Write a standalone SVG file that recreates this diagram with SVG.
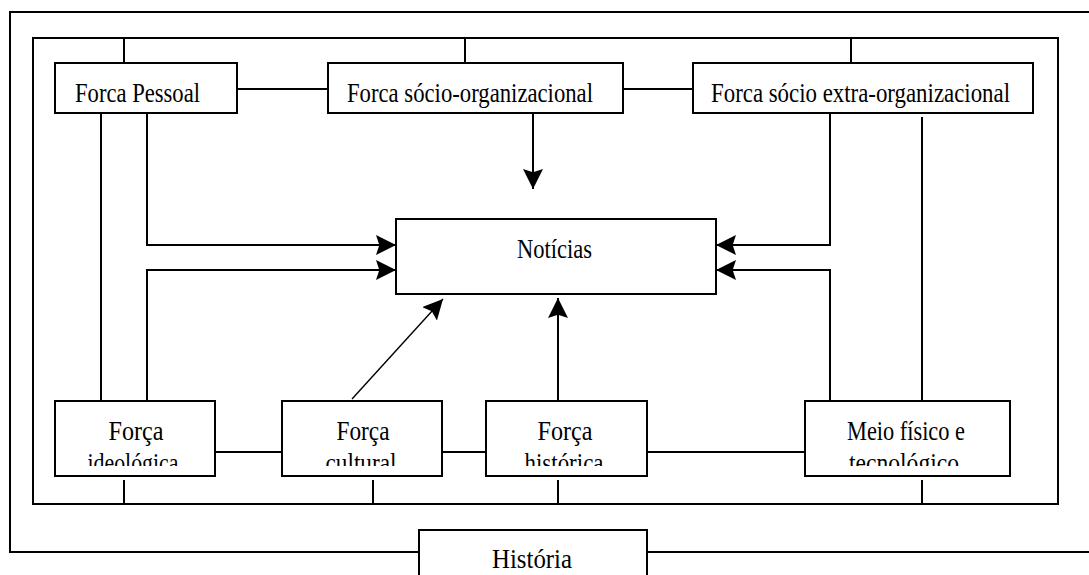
<svg xmlns="http://www.w3.org/2000/svg" width="1089" height="575" viewBox="0 0 1089 575">
<style>
  .box { fill: #fff; stroke: #000; stroke-width: 2; }
  .ln { fill: none; stroke: #000; stroke-width: 2; }
  .thin { fill: none; stroke: #000; stroke-width: 1.4; }
  text { font-family: "Liberation Serif", "Times New Roman", serif; font-size: 28px; fill: #000; }
  .c { text-anchor: middle; }
</style>
<defs>
  <marker id="arr" markerUnits="userSpaceOnUse" markerWidth="20" markerHeight="20" viewBox="0 0 18 18" refX="18" refY="9" orient="auto">
    <path d="M0,0 L18,9 L0,18 L3,9 Z" fill="#000"/>
  </marker>
  <clipPath id="cut" clipPathUnits="userSpaceOnUse">
    <rect x="0" y="0" width="1089" height="466"/>
  </clipPath>
</defs>
<rect width="1089" height="575" fill="#fff"/>

<g id="frames">
  <path class="ln" d="M419,552 H10 V12 H1095"/>
  <path class="ln" d="M647,552 H1095"/>
  <rect class="ln" x="33" y="38" width="1025" height="466"/>
</g>

<g id="connectors">
  <path class="ln" d="M124,38 V63"/>
  <path class="ln" d="M465,38 V63"/>
  <path class="ln" d="M851,38 V63"/>
  <path class="ln" d="M237,89 H328"/>
  <path class="ln" d="M623,89 H693"/>
  <path class="ln" d="M101,113 V401"/>
  <path class="ln" d="M147,113 V245 H396" marker-end="url(#arr)"/>
  <path class="ln" d="M147,401 V270 H396" marker-end="url(#arr)"/>
  <path class="ln" d="M922,117 V401"/>
  <path class="ln" d="M830,113 V245 H716" marker-end="url(#arr)"/>
  <path class="ln" d="M830,401 V270 H716" marker-end="url(#arr)"/>
  <path class="ln" d="M533,113 V189" marker-end="url(#arr)"/>
  <path class="thin" d="M352,399 L443,299" marker-end="url(#arr)"/>
  <path class="ln" d="M558,401 V298" marker-end="url(#arr)"/>
  <path class="ln" d="M215,452 H282"/>
  <path class="ln" d="M442,452 H486"/>
  <path class="ln" d="M647,452 H805"/>
  <path class="ln" d="M124,480 V504"/>
  <path class="ln" d="M373,480 V504"/>
  <path class="ln" d="M558,480 V504"/>
  <path class="ln" d="M922,480 V504"/>
</g>

<g id="forca-pessoal">
  <rect class="box" x="55" y="63" width="182" height="50"/>
  <text x="75" y="102" textLength="125" lengthAdjust="spacingAndGlyphs">Forca Pessoal</text>
</g>
<g id="forca-socio-organizacional">
  <rect class="box" x="328" y="63" width="295" height="50"/>
  <text x="347" y="102" textLength="246" lengthAdjust="spacingAndGlyphs">Forca sócio-organizacional</text>
</g>
<g id="forca-socio-extra">
  <rect class="box" x="693" y="63" width="340" height="50"/>
  <text x="711" y="102" textLength="299" lengthAdjust="spacingAndGlyphs">Forca sócio extra-organizacional</text>
</g>
<g id="noticias">
  <rect class="box" x="396" y="219" width="320" height="75"/>
  <text x="517" y="258" textLength="75" lengthAdjust="spacingAndGlyphs">Notícias</text>
</g>
<g id="forca-ideologica">
  <rect class="box" x="55" y="401" width="160" height="75"/>
  <text class="c" x="136" y="440" textLength="55" lengthAdjust="spacingAndGlyphs">Força</text>
  <text class="c" x="133" y="472" textLength="91" lengthAdjust="spacingAndGlyphs" clip-path="url(#cut)">ideológica</text>
</g>
<g id="forca-cultural">
  <rect class="box" x="282" y="401" width="160" height="75"/>
  <text class="c" x="363" y="440" textLength="53" lengthAdjust="spacingAndGlyphs">Força</text>
  <text class="c" x="361" y="472" textLength="71" lengthAdjust="spacingAndGlyphs" clip-path="url(#cut)">cultural</text>
</g>
<g id="forca-historica">
  <rect class="box" x="486" y="401" width="161" height="75"/>
  <text class="c" x="565" y="440" textLength="55" lengthAdjust="spacingAndGlyphs">Força</text>
  <text class="c" x="564" y="472" textLength="79" lengthAdjust="spacingAndGlyphs" clip-path="url(#cut)">histórica</text>
</g>
<g id="meio-fisico">
  <rect class="box" x="805" y="401" width="205" height="75"/>
  <text class="c" x="906" y="440" textLength="118" lengthAdjust="spacingAndGlyphs">Meio físico e</text>
  <text class="c" x="904" y="472" textLength="110" lengthAdjust="spacingAndGlyphs" clip-path="url(#cut)">tecnológico</text>
</g>
<g id="historia">
  <rect class="box" x="419" y="530" width="228" height="60"/>
  <text x="492" y="568" textLength="80" lengthAdjust="spacingAndGlyphs">História</text>
</g>
</svg>
